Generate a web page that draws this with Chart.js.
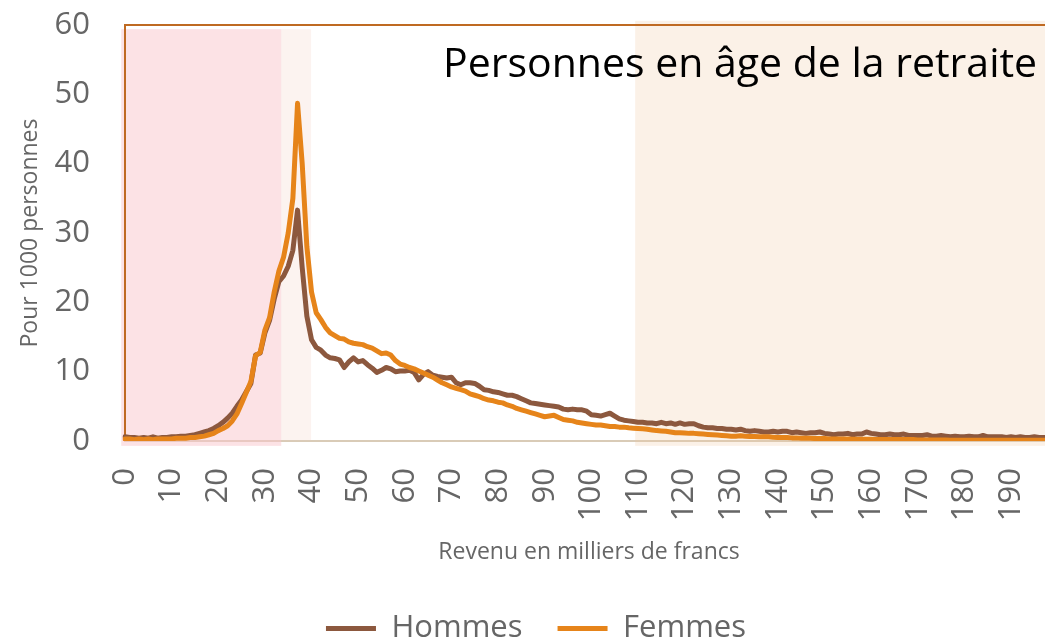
<!DOCTYPE html>
<html>
<head>
<meta charset="utf-8">
<script src="https://cdn.jsdelivr.net/npm/chart.js@4.4.1/dist/chart.umd.min.js"></script>
<style>
  html, body { margin: 0; padding: 0; background: #fff; overflow: hidden; }
</style>
</head>
<body>
<canvas id="chart" width="1072" height="654"></canvas>
<script>
// revenu en milliers de francs, un point par millier
const revenu = Array.from({ length: 200 }, (_, i) => i);
const xTickLabels = ['0', '10', '20', '30', '40', '50', '60', '70', '80', '90',
  '100', '110', '120', '130', '140', '150', '160', '170', '180', '190'];
const yTickValues = [0, 10, 20, 30, 40, 50, 60];

const hommes = [
  0.6, 0.5, 0.5, 0.4, 0.5, 0.4, 0.6, 0.4, 0.5, 0.5,
  0.6, 0.6, 0.7, 0.7, 0.8, 0.9, 1.1, 1.3, 1.5, 1.8,
  2.2, 2.7, 3.3, 4.0, 5.0, 5.9, 7.1, 8.3, 12.4, 12.7,
  15.6, 17.4, 20.5, 23.0, 23.8, 25.2, 27.5, 33.3, 25.0, 18.0,
  14.6, 13.5, 13.1, 12.4, 12.0, 11.9, 11.7, 10.6, 11.4, 12.0,
  11.4, 11.6, 11.0, 10.5, 9.9, 10.2, 10.6, 10.4, 10.0, 10.1,
  10.1, 10.2, 9.9, 8.8, 9.6, 10.0, 9.5, 9.3, 9.2, 9.1,
  9.2, 8.4, 8.1, 8.4, 8.4, 8.3, 7.9, 7.4, 7.3, 7.1,
  7.0, 6.8, 6.6, 6.6, 6.4, 6.1, 5.8, 5.5, 5.4, 5.3,
  5.2, 5.1, 5.0, 4.9, 4.6, 4.5, 4.6, 4.5, 4.5, 4.3,
  3.8, 3.7, 3.6, 3.8, 4.0, 3.6, 3.2, 3.0, 2.9, 2.8,
  2.7, 2.7, 2.6, 2.6, 2.5, 2.7, 2.5, 2.6, 2.4, 2.6,
  2.4, 2.5, 2.5, 2.2, 2.0, 1.9, 1.9, 1.8, 1.8, 1.7,
  1.7, 1.6, 1.7, 1.5, 1.4, 1.5, 1.4, 1.3, 1.3, 1.4,
  1.3, 1.4, 1.4, 1.2, 1.3, 1.2, 1.1, 1.2, 1.2, 1.3,
  1.1, 1.0, 0.9, 1.0, 1.0, 1.1, 0.9, 1.0, 1.0, 1.3,
  1.1, 1.0, 0.9, 0.9, 1.0, 0.9, 0.9, 1.0, 0.8, 0.8,
  0.8, 0.8, 0.9, 0.7, 0.7, 0.8, 0.7, 0.6, 0.7, 0.6,
  0.6, 0.7, 0.6, 0.6, 0.8, 0.6, 0.6, 0.6, 0.6, 0.5,
  0.6, 0.5, 0.6, 0.5, 0.5, 0.6, 0.5, 0.5, 0.5, 0.4
];

const femmes = [
  0.3, 0.3, 0.2, 0.3, 0.2, 0.3, 0.2, 0.3, 0.3, 0.3,
  0.3, 0.4, 0.4, 0.4, 0.5, 0.5, 0.6, 0.7, 0.9, 1.1,
  1.5, 1.8, 2.2, 2.9, 3.9, 5.4, 7.0, 8.6, 12.3, 12.8,
  16.0, 17.8, 21.5, 24.5, 26.5, 30.0, 35.0, 48.7, 40.0, 28.0,
  21.5, 18.5, 17.5, 16.4, 15.6, 15.2, 14.8, 14.7, 14.3, 14.1,
  14.0, 13.9, 13.6, 13.4, 13.0, 12.6, 12.7, 12.4, 11.6, 11.1,
  10.9, 10.6, 10.4, 10.1, 9.8, 9.5, 9.2, 8.8, 8.4, 8.1,
  7.8, 7.6, 7.4, 7.2, 6.8, 6.6, 6.4, 6.1, 5.9, 5.8,
  5.6, 5.5, 5.2, 5.0, 4.7, 4.5, 4.3, 4.1, 3.9, 3.7,
  3.5, 3.6, 3.7, 3.4, 3.1, 3.0, 2.9, 2.7, 2.6, 2.5,
  2.4, 2.3, 2.3, 2.2, 2.1, 2.1, 2.0, 2.0, 1.9, 1.85,
  1.8, 1.75, 1.7, 1.6, 1.5, 1.45, 1.4, 1.3, 1.2, 1.2,
  1.15, 1.1, 1.1, 1.05, 1.0, 0.95, 0.9, 0.85, 0.8, 0.75,
  0.7, 0.7, 0.75, 0.7, 0.65, 0.65, 0.6, 0.6, 0.6, 0.55,
  0.5, 0.5, 0.5, 0.45, 0.45, 0.4, 0.4, 0.4, 0.35, 0.35,
  0.35, 0.3, 0.3, 0.3, 0.3, 0.3, 0.25, 0.25, 0.25, 0.25,
  0.25, 0.2, 0.2, 0.2, 0.2, 0.2, 0.2, 0.2, 0.2, 0.2,
  0.15, 0.15, 0.15, 0.15, 0.15, 0.15, 0.15, 0.1, 0.1, 0.1,
  0.1, 0.1, 0.1, 0.1, 0.1, 0.1, 0.1, 0.1, 0.1, 0.1,
  0.1, 0.1, 0.1, 0.1, 0.1, 0.1, 0.1, 0.1, 0.1, 0.1
];

// zones de fond (en milliers de francs / pour 1000)
const zoneDebut = [-0.8, 33.5, 109.4];
const zoneFin = [33.5, 39.9, 215];
const zoneBas = [-0.7, 0.1, -0.7];
const zoneHaut = [59.4, 59.4, 60.6];

const titre = 'Personnes en âge de la retraite';
const FONT = '"Open Sans", "Noto Sans", sans-serif';

const zonesPlugin = {
  id: 'zones',
  beforeDatasetsDraw(chart) {
    const { ctx, chartArea, scales: { x, y } } = chart;
    const colors = ['rgba(250, 198, 204, 0.5)', 'rgba(245, 214, 204, 0.3)', 'rgba(240, 200, 160, 0.25)'];
    ctx.save();
    zoneDebut.forEach((d, i) => {
      const x0 = x.getPixelForValue(d);
      const x1 = x.getPixelForValue(zoneFin[i]);
      const y0 = y.getPixelForValue(zoneHaut[i]);
      const y1 = y.getPixelForValue(zoneBas[i]);
      ctx.fillStyle = colors[i];
      ctx.fillRect(x0, y0, x1 - x0, y1 - y0);
    });
    // cadre haut + gauche
    ctx.strokeStyle = '#bf6a22';
    ctx.lineWidth = 2;
    ctx.beginPath();
    ctx.moveTo(chartArea.left, chartArea.bottom);
    ctx.lineTo(chartArea.left, chartArea.top);
    ctx.lineTo(chart.width, chartArea.top);
    ctx.stroke();
    ctx.restore();
  },
  afterDraw(chart) {
    const { ctx, chartArea } = chart;
    ctx.save();
    ctx.font = '41px ' + FONT;
    ctx.fillStyle = '#000';
    ctx.textAlign = 'left';
    ctx.textBaseline = 'alphabetic';
    ctx.fillText(titre, chartArea.left + 318, chartArea.top + 52);
    ctx.restore();
  }
};

new Chart(document.getElementById('chart'), {
  type: 'line',
  data: {
    labels: revenu,
    datasets: [
      {
        label: 'Hommes',
        data: hommes,
        borderColor: '#8c583e',
        backgroundColor: '#8c583e',
        borderWidth: 5,
        borderJoinStyle: 'round',
        borderCapStyle: 'round',
        pointRadius: 0,
        tension: 0,
        order: 1
      },
      {
        label: 'Femmes',
        data: femmes,
        borderColor: '#e6841a',
        backgroundColor: '#e6841a',
        borderWidth: 5,
        borderJoinStyle: 'round',
        borderCapStyle: 'round',
        pointRadius: 0,
        tension: 0,
        order: 0
      }
    ]
  },
  options: {
    responsive: false,
    animation: false,
    layout: { padding: { top: 25, left: 0, right: 0, bottom: 0 } },
    plugins: {
      tooltip: { enabled: false },
      legend: {
        position: 'bottom',
        labels: {
          font: { family: FONT, size: 31 },
          color: '#666',
          usePointStyle: true,
          pointStyle: 'line',
          pointStyleWidth: 50,
          padding: 35,
          sort: (a, b) => a.datasetIndex - b.datasetIndex
        }
      }
    },
    scales: {
      x: {
        type: 'category',
        offset: false,
        grid: { display: false, drawTicks: false },
        border: { display: true, color: '#d9cbb7', width: 2 },
        ticks: {
          autoSkip: false,
          minRotation: 90,
          maxRotation: 90,
          padding: 27,
          color: '#666',
          font: { family: FONT, size: 31 },
          callback: function (value) {
            const lab = String(this.getLabelForValue(value));
            return xTickLabels.includes(lab) ? lab : '';
          }
        },
        title: {
          display: true,
          text: 'Revenu en milliers de francs',
          color: '#666',
          font: { family: FONT, size: 23 },
          padding: { top: 0, bottom: 12 }
        },
        afterFit: (s) => {
          s.height = 137;
          s.paddingLeft = 0;
          s.paddingRight = 19;
        }
      },
      y: {
        min: 0,
        max: 60,
        grid: { display: false, drawTicks: false },
        border: { display: false },
        afterBuildTicks: (s) => { s.ticks = yTickValues.map(v => ({ value: v })); },
        ticks: {
          padding: 35,
          color: '#666',
          font: { family: FONT, size: 31 }
        },
        title: {
          display: true,
          text: 'Pour 1000 personnes',
          color: '#666',
          font: { family: FONT, size: 23 },
          padding: { top: 17, bottom: 0 }
        },
        afterFit: (s) => {
          s.width = 125;
          s.paddingTop = 0;
          s.paddingBottom = 0;
        }
      }
    }
  },
  plugins: [zonesPlugin]
});
</script>
</body>
</html>
